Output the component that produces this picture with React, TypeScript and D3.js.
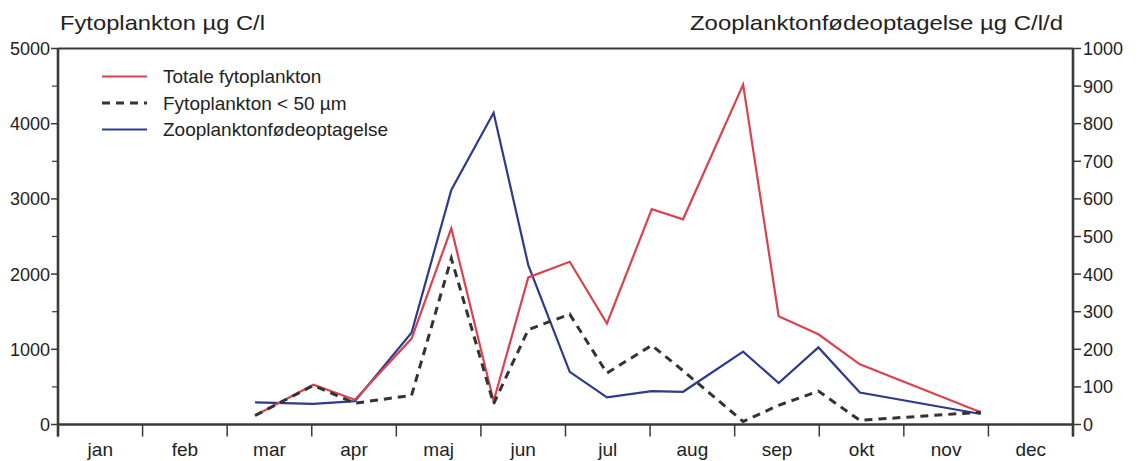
import React from "react";
import * as d3 from "d3";

// Sampling dates as fractional month index (0 = 1 Jan)
const sampleMonths = [2.33, 3.02, 3.51, 4.18, 4.65, 5.15, 5.56, 6.05, 6.49, 7.02, 7.39, 8.1, 8.52, 8.99, 9.48, 10.91];
const totalPhyto = [120, 529, 329, 1143, 2609, 310, 1956, 2164, 1343, 2863, 2729, 4520, 1440, 1200, 800, 164];
const smallPhyto = [120, 520, 284, 387, 2209, 276, 1262, 1467, 684, 1053, 715, 40, 255, 444, 55, 164];
const zooGrazing = [59, 55, 62, 244, 624, 829, 424, 140, 72, 89, 87, 194, 110, 205, 85, 28];

const months = ["jan", "feb", "mar", "apr", "maj", "jun", "jul", "aug", "sep", "okt", "nov", "dec"];
const leftTicks = [0, 1000, 2000, 3000, 4000, 5000];
const leftMinor = [500, 1500, 2500, 3500, 4500];
const rightTicks = [0, 100, 200, 300, 400, 500, 600, 700, 800, 900, 1000];

const legendItems = [
  { label: "Totale fytoplankton", color: "#d8434d", dash: "" },
  { label: "Fytoplankton < 50 µm", color: "#333333", dash: "8,6" },
  { label: "Zooplanktonfødeoptagelse", color: "#2e3a8c", dash: "" },
];

export default function App() {
  const W = 1139, H = 461;
  const L = 58, R = 1073, T = 48.5, B = 424.5;
  const x = d3.scaleLinear().domain([0, 12]).range([L, R]);
  const yL = d3.scaleLinear().domain([0, 5000]).range([B, T]);
  const yR = d3.scaleLinear().domain([0, 1000]).range([B, T]);
  const font = "Liberation Sans, Arial, sans-serif";
  const axisColor = "#3a3a3a";
  const textColor = "#222";

  const lineL = d3.line<number>().x((_, i) => x(sampleMonths[i])).y((v) => yL(v));
  const lineR = d3.line<number>().x((_, i) => x(sampleMonths[i])).y((v) => yR(v));

  return (
    <svg width={W} height={H} style={{ position: "absolute", left: 0, top: 0, background: "#fff" }} fontFamily={font}>
      <rect x={0} y={0} width={W} height={H} fill="#fff" />
      {/* titles */}
      <text x={60} y={30} fontSize={21} fill={textColor} textLength={205} lengthAdjust="spacingAndGlyphs">Fytoplankton µg C/l</text>
      <text x={690} y={30} fontSize={21} fill={textColor} textLength={373} lengthAdjust="spacingAndGlyphs">Zooplanktonfødeoptagelse µg C/l/d</text>

      {/* frame */}
      <line x1={L} x2={R} y1={T} y2={T} stroke={axisColor} strokeWidth={2.2} />
      <line x1={L} x2={R} y1={B} y2={B} stroke={axisColor} strokeWidth={2.6} />
      <line x1={L} x2={L} y1={T} y2={B + 12} stroke={axisColor} strokeWidth={2.6} />
      <line x1={R} x2={R} y1={T} y2={B + 12} stroke={axisColor} strokeWidth={2.6} />

      {/* left axis */}
      {leftTicks.map((t) => (
        <g key={"l" + t}>
          <line x1={L - 7} x2={L} y1={yL(t)} y2={yL(t)} stroke={axisColor} strokeWidth={1.5} />
          <text x={L - 8} y={yL(t)} dy="0.36em" fontSize={18} textAnchor="end" fill={textColor}>{t}</text>
        </g>
      ))}
      {leftMinor.map((t) => (
        <line key={"lm" + t} x1={L - 6} x2={L} y1={yL(t)} y2={yL(t)} stroke={axisColor} strokeWidth={1.2} />
      ))}

      {/* right axis */}
      {rightTicks.map((t) => (
        <g key={"r" + t}>
          <line x1={R} x2={R + 8} y1={yR(t)} y2={yR(t)} stroke={axisColor} strokeWidth={1.5} />
          <text x={R + 10} y={yR(t)} dy="0.36em" fontSize={18} textAnchor="start" fill={textColor}>{t}</text>
        </g>
      ))}

      {/* month axis */}
      {d3.range(0, 13).map((m) => (
        <line key={"m" + m} x1={x(m)} x2={x(m)} y1={B} y2={B + 12} stroke={axisColor} strokeWidth={1.5} />
      ))}
      {months.map((mo, i) => (
        <text key={mo} x={x(i + 0.5)} y={B + 31} fontSize={19} textAnchor="middle" fill={textColor}>{mo}</text>
      ))}

      {/* series */}
      <path d={lineR(zooGrazing) || ""} fill="none" stroke="#2e3a8c" strokeWidth={2.2} strokeLinejoin="miter" />
      <path d={lineL(totalPhyto) || ""} fill="none" stroke="#d8434d" strokeWidth={2.2} strokeLinejoin="miter" />
      <path d={lineL(smallPhyto) || ""} fill="none" stroke="#333333" strokeWidth={3} strokeDasharray="8,6" />

      {/* legend */}
      {legendItems.map((it, i) => {
        const ly = 76.5 + i * 26.5;
        return (
          <g key={it.label}>
            <line x1={102} x2={147} y1={ly} y2={ly} stroke={it.color} strokeWidth={it.dash ? 3 : 2.2} strokeDasharray={it.dash || undefined} />
            <text x={163} y={ly} dy="0.36em" fontSize={19} fill={textColor}>{it.label}</text>
          </g>
        );
      })}
    </svg>
  );
}
